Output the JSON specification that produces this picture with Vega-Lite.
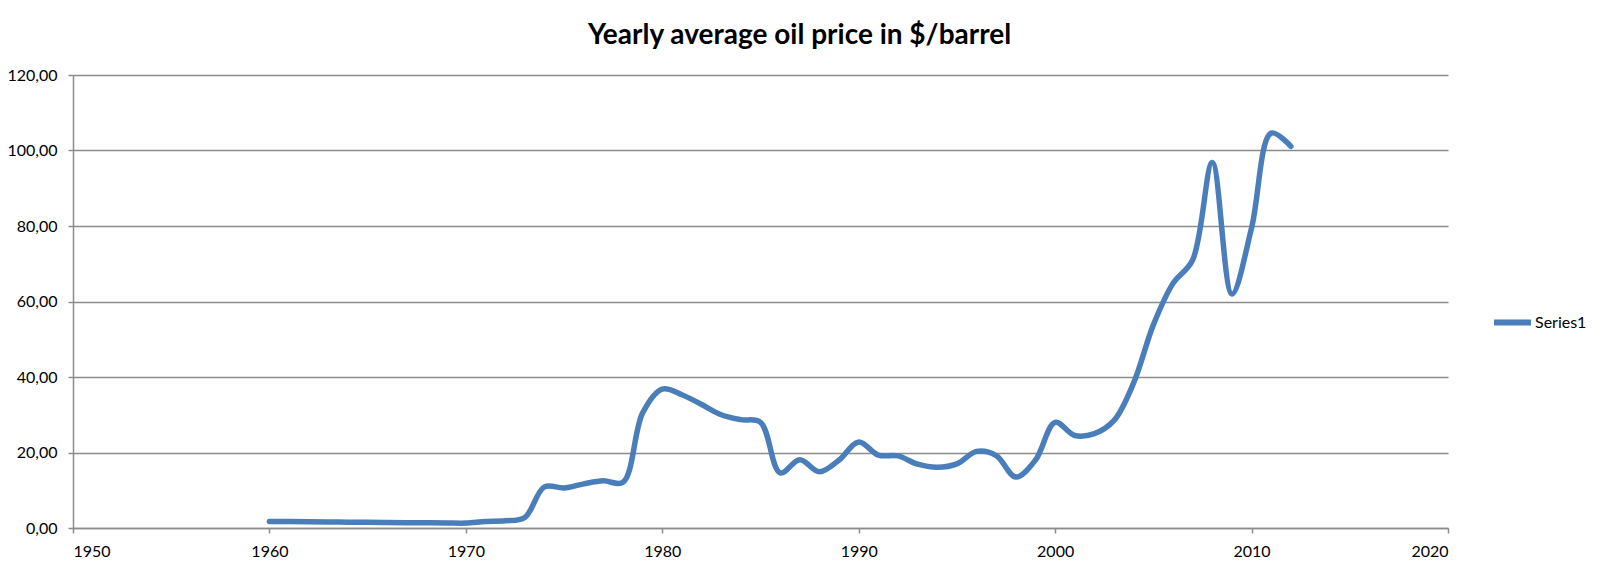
{
  "$schema": "https://vega.github.io/schema/vega-lite/v6.json",
  "autosize": {"type": "none"},
  "width": 1375,
  "height": 453,
  "padding": {"left": 73, "top": 75, "right": 152, "bottom": 43},
  "background": "white",
  "title": {
    "text": "Yearly average oil price in $/barrel",
    "font": "Lato",
    "fontWeight": "bold",
    "fontSize": 28,
    "color": "#000000",
    "anchor": "middle",
    "frame": "group",
    "dx": 39,
    "offset": 17
  },
  "data": {
    "values": [
      {"year": 1960, "price": 1.75},
      {"year": 1961, "price": 1.7},
      {"year": 1962, "price": 1.65},
      {"year": 1963, "price": 1.6},
      {"year": 1964, "price": 1.55},
      {"year": 1965, "price": 1.5},
      {"year": 1966, "price": 1.45},
      {"year": 1967, "price": 1.42},
      {"year": 1968, "price": 1.4},
      {"year": 1969, "price": 1.35},
      {"year": 1970, "price": 1.3},
      {"year": 1971, "price": 1.75},
      {"year": 1972, "price": 1.9},
      {"year": 1973, "price": 2.8},
      {"year": 1974, "price": 10.9},
      {"year": 1975, "price": 10.6},
      {"year": 1976, "price": 11.7},
      {"year": 1977, "price": 12.5},
      {"year": 1978, "price": 12.1},
      {"year": 1979, "price": 30.5},
      {"year": 1980, "price": 36.8},
      {"year": 1981, "price": 35.3},
      {"year": 1982, "price": 32.7},
      {"year": 1983, "price": 30.0},
      {"year": 1984, "price": 28.7},
      {"year": 1985, "price": 28.0},
      {"year": 1986, "price": 14.6},
      {"year": 1987, "price": 18.1},
      {"year": 1988, "price": 14.9},
      {"year": 1989, "price": 18.0},
      {"year": 1990, "price": 22.8},
      {"year": 1991, "price": 19.3},
      {"year": 1992, "price": 19.1},
      {"year": 1993, "price": 16.9},
      {"year": 1994, "price": 16.1},
      {"year": 1995, "price": 17.0},
      {"year": 1996, "price": 20.3},
      {"year": 1997, "price": 19.2},
      {"year": 1998, "price": 13.5},
      {"year": 1999, "price": 18.0},
      {"year": 2000, "price": 28.0},
      {"year": 2001, "price": 24.5},
      {"year": 2002, "price": 25.0},
      {"year": 2003, "price": 28.5},
      {"year": 2004, "price": 38.5},
      {"year": 2005, "price": 53.8},
      {"year": 2006, "price": 64.8},
      {"year": 2007, "price": 71.0},
      {"year": 2008, "price": 96.8},
      {"year": 2009, "price": 62.0},
      {"year": 2010, "price": 79.5},
      {"year": 2011, "price": 104.6},
      {"year": 2012, "price": 101.1}
    ]
  },
  "mark": {
    "type": "line",
    "interpolate": "catmull-rom",
    "strokeWidth": 5.5,
    "strokeCap": "round",
    "strokeJoin": "round"
  },
  "encoding": {
    "x": {
      "field": "year",
      "type": "quantitative",
      "scale": {"domain": [1950, 2020], "nice": false, "zero": false},
      "axis": {
        "title": null,
        "values": [1950, 1960, 1970, 1980, 1990, 2000, 2010, 2020],
        "format": "d",
        "grid": false,
        "domainColor": "#8c8c8c",
        "domainWidth": 1.5,
        "tickColor": "#8c8c8c",
        "tickWidth": 1.5,
        "tickSize": 5,
        "labelPadding": 10,
        "labelFont": "Lato",
        "labelFontSize": 16,
        "labelColor": "#000000"
      }
    },
    "y": {
      "field": "price",
      "type": "quantitative",
      "scale": {"domain": [0, 120], "nice": false},
      "axis": {
        "title": null,
        "values": [0, 20, 40, 60, 80, 100, 120],
        "labelExpr": "replace(format(datum.value, '.2f'), '.', ',')",
        "grid": true,
        "gridColor": "#8c8c8c",
        "gridWidth": 1.5,
        "domainColor": "#8c8c8c",
        "domainWidth": 1.5,
        "tickColor": "#8c8c8c",
        "tickWidth": 1.5,
        "tickSize": 5,
        "labelPadding": 11,
        "labelFont": "Lato",
        "labelFontSize": 16,
        "labelColor": "#000000"
      }
    },
    "color": {
      "datum": "Series1",
      "scale": {"range": ["#4a7ebb"]},
      "legend": {
        "title": null,
        "orient": "none",
        "legendX": 1418,
        "legendY": 226,
        "symbolType": "stroke",
        "symbolSize": 1369,
        "symbolStrokeWidth": 6,
        "labelOffset": 1,
        "labelFont": "Lato",
        "labelFontSize": 16,
        "labelColor": "#000000"
      }
    }
  },
  "config": {
    "view": {"stroke": null}
  }
}
